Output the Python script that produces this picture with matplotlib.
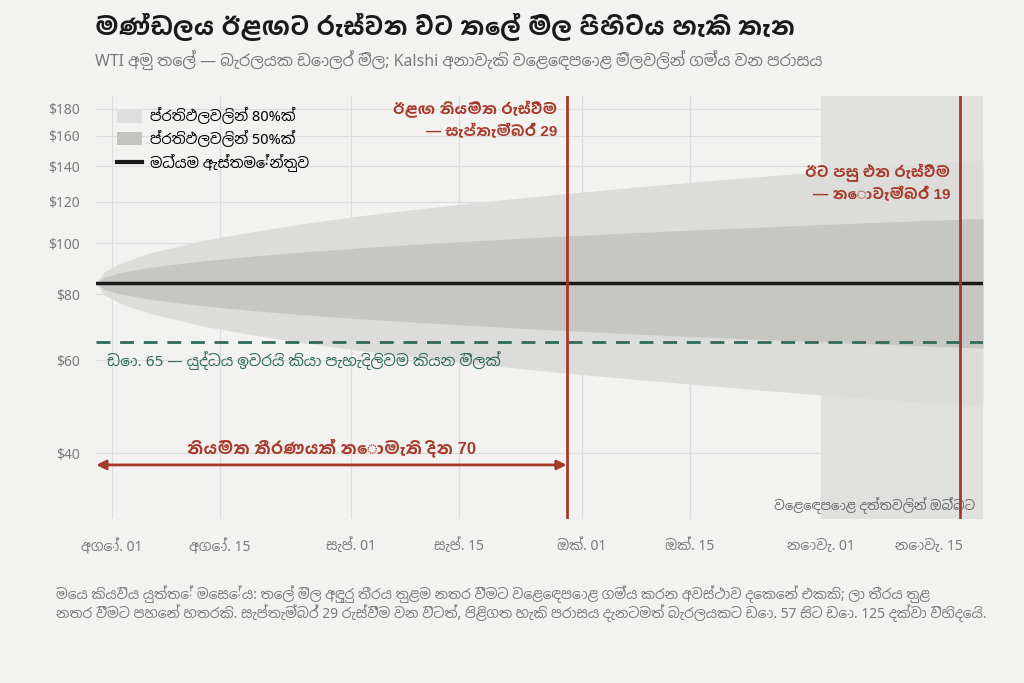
import datetime as dt
import matplotlib
matplotlib.use("Agg")
import matplotlib.pyplot as plt
import matplotlib.dates as mdates
from matplotlib import font_manager as fm
from matplotlib.patches import Patch
from matplotlib.lines import Line2D
import matplotlib.ticker as mticker

# ---------------- data ----------------
dates = ["2025-07-30", "2025-07-31", "2025-08-02", "2025-08-06", "2025-08-13",
         "2025-08-20", "2025-08-27", "2025-09-03", "2025-09-10", "2025-09-17",
         "2025-09-24", "2025-10-01", "2025-10-08", "2025-10-15", "2025-10-22",
         "2025-10-29", "2025-11-05", "2025-11-12", "2025-11-22"]
median = [84.0] * 19
p80_hi = [84.0, 88.3, 91.6, 95.9, 101.4, 105.7, 109.6, 113.1, 116.3, 119.4,
          122.3, 125.1, 127.8, 130.5, 133.1, 135.6, 138.1, 140.5, 143.9]
p80_lo = [84.0, 79.9, 77.0, 73.6, 69.6, 66.8, 64.4, 62.4, 60.7, 59.1,
          57.7, 56.4, 55.2, 54.1, 53.0, 52.0, 51.1, 50.2, 49.0]
p50_hi = [84.0, 86.2, 87.9, 90.1, 92.7, 94.8, 96.6, 98.2, 99.7, 101.1,
          102.4, 103.6, 104.8, 105.9, 107.0, 108.1, 109.1, 110.1, 111.5]
p50_lo = [84.0, 81.8, 80.2, 78.3, 76.1, 74.4, 73.0, 71.8, 70.8, 69.8,
          68.9, 68.1, 67.3, 66.6, 65.9, 65.3, 64.7, 64.1, 63.3]

war_over_price = 65
meeting_next = "2025-09-29"
meeting_after = "2025-11-19"
market_end = "2025-11-01"
days_no_decision = 70

y_ticks = [40, 60, 80, 100, 120, 140, 160, 180]
y_tick_labels = ["$40", "$60", "$80", "$100", "$120", "$140", "$160", "$180"]
x_tick_dates = ["2025-08-01", "2025-08-15", "2025-09-01", "2025-09-15",
                "2025-10-01", "2025-10-15", "2025-11-01", "2025-11-15"]
x_tick_labels = ["අගෝ. 01", "අගෝ. 15", "සැප්. 01", "සැප්. 15",
                 "ඔක්. 01", "ඔක්. 15", "නොවැ. 01", "නොවැ. 15"]

title = "මණ්ඩලය ඊළඟට රැස්වන විට තෙල් මිල පිහිටිය හැකි තැන"
subtitle = "WTI අමු තෙල් — බැරලයක ඩොලර් මිල; Kalshi අනාවැකි වෙළෙඳපොළ මිලවලින් ගම්‍ය වන පරාසය"
legend_labels = ["ප්‍රතිඵලවලින් 80%ක්", "ප්‍රතිඵලවලින් 50%ක්", "මධ්‍යම ඇස්තමේන්තුව"]
note = ("මෙය කියවිය යුත්තේ මෙසේය: තෙල් මිල අඳුරු තීරය තුළම නතර වීමට වෙළෙඳපොළ ගම්‍ය කරන අවස්ථාව දෙකෙන් එකකි; ලා තීරය තුළ\n"
        "නතර වීමට පහෙන් හතරකි. සැප්තැම්බර් 29 රැස්වීම වන විටත්, පිළිගත හැකි පරාසය දැනටමත් බැරලයකට ඩො. 57 සිට ඩො. 125 දක්වා විහිදෙයි.")

# ---------------- fonts ----------------
available = {fe.name for fe in fm.fontManager.ttflist}
def pick(cands, default):
    return next((c for c in cands if c in available), default)

sin_reg = pick(["Noto Sans Sinhala", "Noto Sans Sinhala UI", "Abhaya Libre", "FreeSerif"], "DejaVu Sans")
sin_bold = pick(["Hind Colombo", "Yaldevi Colombo", "Abhaya Libre", "FreeSerif"], sin_reg)
REG = ["Noto Sans", sin_reg, "DejaVu Sans"]
BOLD = ["Liberation Sans", sin_bold, "DejaVu Sans"]
plt.rcParams["font.family"] = REG

# ---------------- figure ----------------
BG = "#f2f2f0"
RED = "#a63a2a"
GREEN = "#2e6b5a"
GREY_T = "#7a7a7a"

fig = plt.figure(figsize=(10.24, 6.83), dpi=100, facecolor=BG)
ax = fig.add_axes([0.094, 0.240, 0.866, 0.619], facecolor=BG)

d = [dt.datetime.fromisoformat(s) for s in dates]
ax.set_yscale("log")
ax.set_ylim(30, 190)
xmin, xmax = dt.datetime(2025, 7, 30), dt.datetime(2025, 11, 22)
ax.set_xlim(xmin, xmax)

ax.fill_between(d, p80_lo, p80_hi, color="#dcdcda", lw=0, zorder=2)
ax.fill_between(d, p50_lo, p50_hi, color="#c6c7c3", lw=0, zorder=3)
ax.plot(d, median, color="#1a1a1a", lw=2.5, zorder=5)

ax.axvspan(dt.datetime.fromisoformat(market_end), xmax,
           color="#e0e0de", lw=0, zorder=1.5)
ax.text(dt.datetime(2025, 11, 21), 31.8, "වෙළෙඳපොළ දත්තවලින් ඔබ්බට",
        ha="right", va="center", fontsize=9.5, color="#6a6a6a", zorder=6)

ax.axhline(war_over_price, color=GREEN, lw=2, ls=(0, (5, 3.5)), zorder=6)
ax.text(dt.datetime(2025, 7, 31, 10), 60, "ඩො. 65 — යුද්ධය ඉවරයි කියා පැහැදිලිවම කියන මිලක්",
        ha="left", va="center", fontsize=11, color=GREEN, zorder=7)

m1 = dt.datetime.fromisoformat(meeting_next)
m2 = dt.datetime.fromisoformat(meeting_after)
ax.axvline(m1, color=RED, lw=2, zorder=6)
ax.axvline(m2, color=RED, lw=2, zorder=6)
ax.annotate("ඊළඟ නියමිත රැස්වීම\n— සැප්තැම්බර් 29", xy=(m1, 171), xytext=(-7, 0),
            textcoords="offset points", ha="right", va="center", fontsize=11,
            fontweight="bold", family=BOLD, color=RED, linespacing=1.5, zorder=7)
ax.annotate("ඊට පසු එන රැස්වීම\n— නොවැම්බර් 19", xy=(m2, 130), xytext=(-7, 0),
            textcoords="offset points", ha="right", va="center", fontsize=11,
            fontweight="bold", family=BOLD, color=RED, linespacing=1.45, zorder=7)

ax.annotate("", xy=(m1, 38), xytext=(xmin, 38),
            arrowprops=dict(arrowstyle="<|-|>", color=RED, lw=2, mutation_scale=14,
                            shrinkA=0, shrinkB=0), annotation_clip=False, zorder=7)
ax.text(xmin + (m1 - xmin) / 2, 41, f"නියමිත තීරණයක් නොමැති දින {days_no_decision}",
        ha="center", va="center", fontsize=12, fontweight="bold", family=BOLD,
        color=RED, zorder=7)

ax.yaxis.set_major_locator(mticker.FixedLocator(y_ticks))
ax.yaxis.set_major_formatter(mticker.FixedFormatter(y_tick_labels))
ax.yaxis.set_minor_locator(mticker.NullLocator())
ax.set_xticks([mdates.date2num(dt.datetime.fromisoformat(s)) for s in x_tick_dates])
ax.set_xticklabels(x_tick_labels)
ax.tick_params(axis="both", length=0, colors=GREY_T, labelsize=10)
ax.tick_params(axis="x", pad=14)
ax.tick_params(axis="y", pad=12)
ax.grid(True, color="#dcdcdc", lw=0.9, zorder=0)
ax.set_axisbelow(True)
for s in ax.spines.values():
    s.set_visible(False)

handles = [Patch(facecolor="#dedede", edgecolor="none"),
           Patch(facecolor="#c3c4c0", edgecolor="none"),
           Line2D([], [], color="#1a1a1a", lw=3)]
leg = ax.legend(handles, legend_labels, loc="upper left", frameon=False,
                fontsize=10.5, handlelength=1.7, handleheight=1.0,
                borderaxespad=0.4, labelspacing=0.4, handletextpad=0.6,
                bbox_to_anchor=(0.01, 1.0))
leg.set_zorder(8)

fig.text(0.093, 0.961, title, fontsize=17.8, fontweight="bold", family=BOLD,
         color="#1a1a1a", ha="left", va="center")
fig.text(0.093, 0.912, subtitle, fontsize=11.5, color=GREY_T, ha="left", va="center")
fig.text(0.055, 0.1165, note, fontsize=10, color=GREY_T, ha="left", va="center",
         linespacing=1.1)

fig.savefig("out.png", dpi=100, facecolor=BG)
